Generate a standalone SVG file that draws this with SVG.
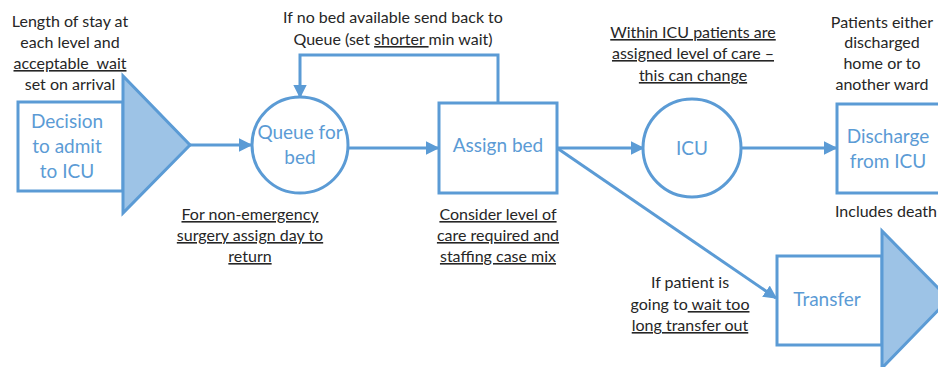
<svg xmlns="http://www.w3.org/2000/svg" width="938" height="367" viewBox="0 0 938 367">
<style>
.shape{fill:#fff;stroke:#5B9BD5;stroke-width:3}
.tri{fill:#9DC3E6;stroke:#5B9BD5;stroke-width:3;stroke-linejoin:miter}
.conn{fill:none;stroke:#5B9BD5;stroke-width:3}
.nt{font-family:Lato,"Liberation Sans",sans-serif;font-size:19px;fill:#5B9BD5;text-anchor:middle}
.lt{font-family:Lato,"Liberation Sans",sans-serif;font-size:16px;fill:#262626;text-anchor:middle}
.u{text-decoration:underline}
</style>
<defs>
<marker id="ah" viewBox="0 0 10 10" refX="9" refY="5" markerWidth="4.5" markerHeight="4.5" orient="auto" markerUnits="strokeWidth">
<path d="M0,0 L10,5 L0,10 z" fill="#5B9BD5"/>
</marker>
</defs>
<g id="connectors">
<line class="conn" x1="190" y1="145" x2="251" y2="145" marker-end="url(#ah)"/>
<line class="conn" x1="349" y1="148" x2="438" y2="148" marker-end="url(#ah)"/>
<polyline class="conn" points="498,103 498,55 300,55 300,97" marker-end="url(#ah)"/>
<line class="conn" x1="557" y1="148" x2="643" y2="148" marker-end="url(#ah)"/>
<line class="conn" x1="741" y1="148" x2="836" y2="148" marker-end="url(#ah)"/>
<line class="conn" x1="557" y1="148" x2="776" y2="298" marker-end="url(#ah)"/>
</g>
<g id="decision">
<rect class="shape" x="18" y="102" width="105" height="89"/>
<polygon class="tri" points="123,76 123,213 190,145"/>
<text class="nt"><tspan x="67" y="128">Decision</tspan><tspan x="67" y="153">to admit</tspan><tspan x="67" y="178">to ICU</tspan></text>
</g>
<g id="queue">
<circle class="shape" cx="300" cy="145" r="48"/>
<text class="nt"><tspan x="300" y="139">Queue for</tspan><tspan x="300" y="164">bed</tspan></text>
</g>
<g id="assign">
<rect class="shape" x="439" y="103" width="118" height="90"/>
<text class="nt" x="498" y="152">Assign bed</text>
</g>
<g id="icu">
<circle class="shape" cx="692" cy="148" r="49"/>
<text class="nt" x="692" y="155">ICU</text>
</g>
<g id="discharge">
<rect class="shape" x="837" y="104" width="110" height="89"/>
<text class="nt"><tspan x="888" y="143">Discharge</tspan><tspan x="888" y="168">from ICU</tspan></text>
</g>
<g id="transfer">
<rect class="shape" x="777" y="256" width="105" height="89"/>
<polygon class="tri" points="882,231 882,368 949,299"/>
<text class="nt" x="827" y="306">Transfer</text>
</g>
<g id="labels">
<text class="lt"><tspan x="70" y="27">Length of stay at</tspan><tspan x="70" y="48">each level and</tspan><tspan x="70" y="69" class="u" xml:space="preserve">acceptable  wait</tspan><tspan x="70" y="90">set on arrival</tspan></text>
<text class="lt"><tspan x="393" y="23">If no bed available send back to</tspan><tspan x="393" y="45">Queue (set <tspan class="u" xml:space="preserve">shorter </tspan>min wait)</tspan></text>
<text class="lt u"><tspan x="250" y="220">For non-emergency</tspan><tspan x="250" y="241">surgery assign day to</tspan><tspan x="250" y="262">return</tspan></text>
<text class="lt u"><tspan x="498" y="220">Consider level of</tspan><tspan x="498" y="241">care required and</tspan><tspan x="498" y="262">staffing case mix</tspan></text>
<text class="lt u"><tspan x="693" y="38">Within ICU patients are</tspan><tspan x="693" y="59">assigned level of care –</tspan><tspan x="693" y="81">this can change</tspan></text>
<text class="lt"><tspan x="882" y="28">Patients either</tspan><tspan x="882" y="48">discharged</tspan><tspan x="882" y="69">home or to</tspan><tspan x="882" y="90">another ward</tspan></text>
<text class="lt" x="835" y="217" style="text-anchor:start">Includes death</text>
<text class="lt"><tspan x="690" y="288">If patient is</tspan><tspan x="690" y="310">going to<tspan class="u" xml:space="preserve"> wait too</tspan></tspan><tspan x="690" y="331" class="u">long transfer out</tspan></text>
</g>
</svg>
